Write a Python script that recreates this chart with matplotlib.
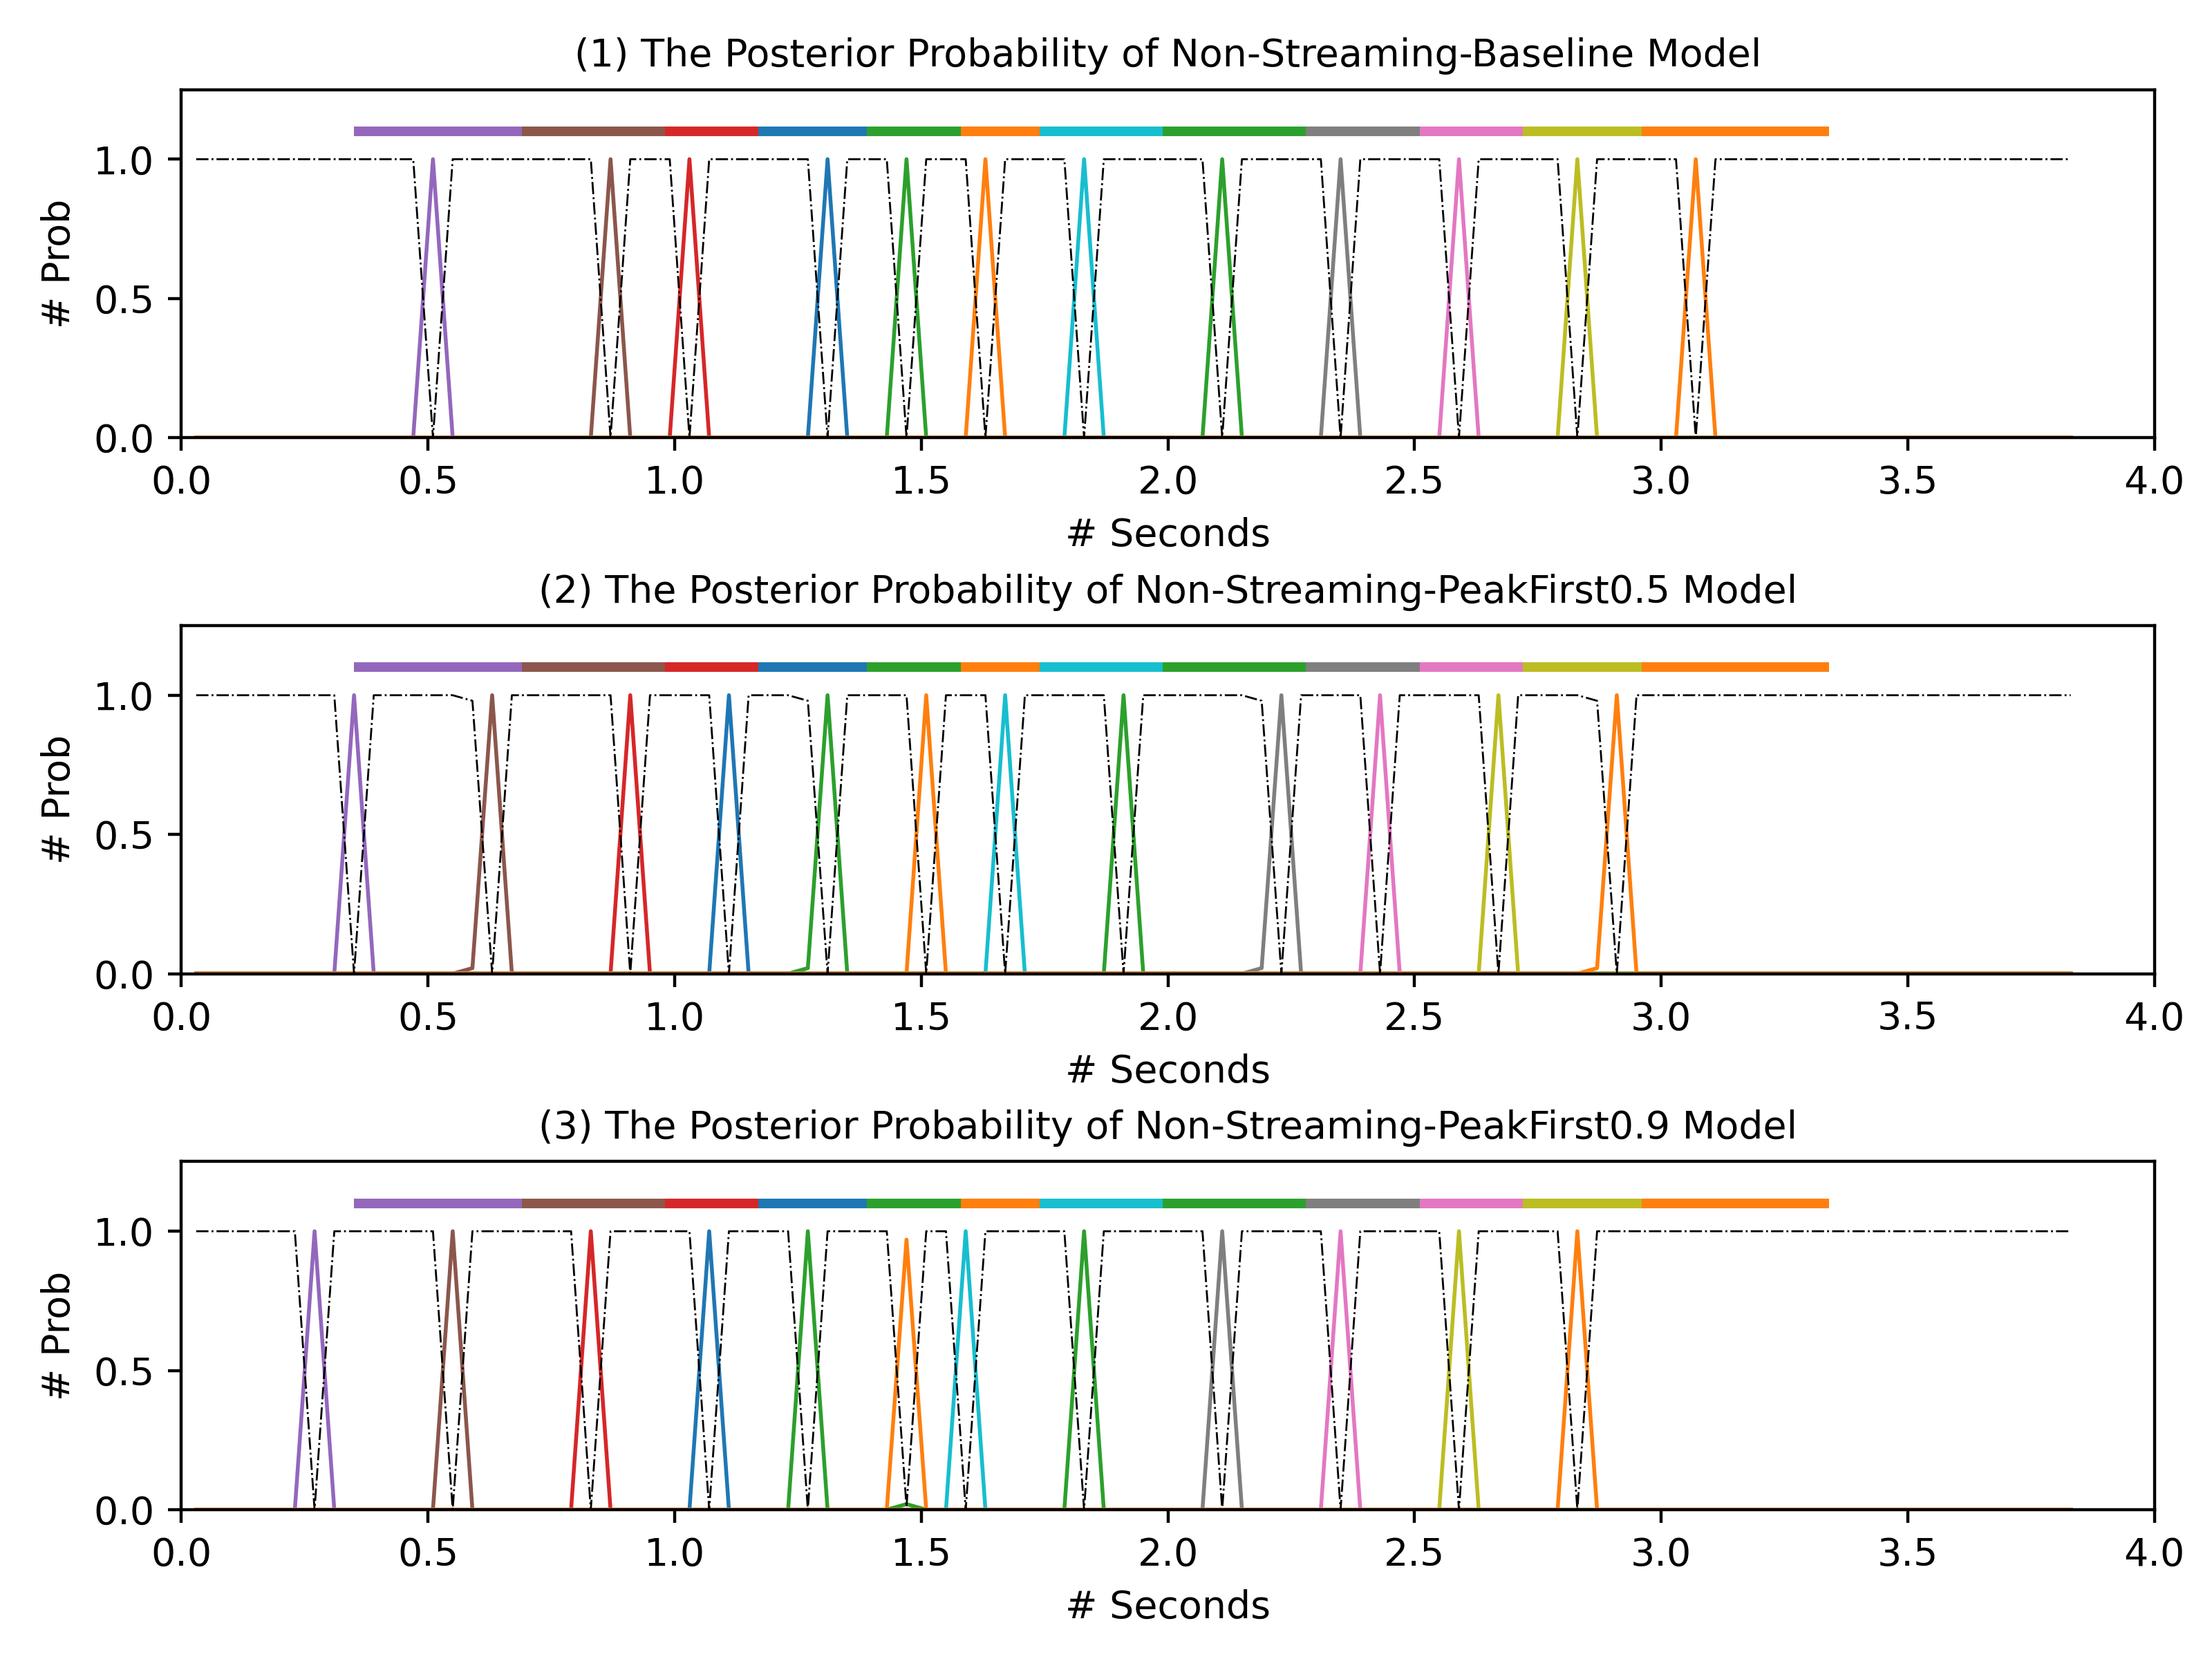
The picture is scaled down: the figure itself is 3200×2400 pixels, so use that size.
import numpy as np
import matplotlib
matplotlib.use("Agg")
import matplotlib.pyplot as plt

# frame grid of the model output (40 ms shift)
frame_start = 0.03
frame_shift = 0.04
n_frames = 96

# colour of each token in the utterance (ground truth order)
token_colors = ['tab:purple', 'tab:brown', 'tab:red', 'tab:blue', 'tab:green', 'tab:orange',
                'tab:cyan', 'tab:green', 'tab:gray', 'tab:pink', 'tab:olive', 'tab:orange']

# ground truth token boundaries (seconds), drawn as a bar at y=1.1
seg_bounds = [0.35, 0.69, 0.98, 1.17, 1.39, 1.58, 1.74, 1.99, 2.28, 2.51, 2.72, 2.96, 3.34]

titles = ['(1) The Posterior Probability of Non-Streaming-Baseline Model',
          '(2) The Posterior Probability of Non-Streaming-PeakFirst0.5 Model',
          '(3) The Posterior Probability of Non-Streaming-PeakFirst0.9 Model']

# spike time of every token for each model
peaks_baseline = [0.51, 0.87, 1.03, 1.31, 1.47, 1.63, 1.83, 2.11, 2.35, 2.59, 2.83, 3.07]
peaks_pf05 = [0.35, 0.63, 0.91, 1.11, 1.31, 1.51, 1.67, 1.91, 2.23, 2.43, 2.67, 2.91]
peaks_pf09 = [0.27, 0.55, 0.83, 1.07, 1.27, 1.47, 1.59, 1.83, 2.11, 2.35, 2.59, 2.83]

# posterior value at the spike
vals_baseline = [1.0] * 12
vals_pf05 = [1.0] * 12
vals_pf09 = [1.0, 1.0, 1.0, 1.0, 1.0, 0.97, 1.0, 1.0, 1.0, 1.0, 1.0, 1.0]

# small extra posteriors: (time, token index, value)
extra_baseline = []
extra_pf05 = [(0.59, 1, 0.02), (1.27, 4, 0.02), (2.19, 8, 0.02), (2.87, 11, 0.02)]
extra_pf09 = [(1.47, 4, 0.02)]

models = [(peaks_baseline, vals_baseline, extra_baseline),
          (peaks_pf05, vals_pf05, extra_pf05),
          (peaks_pf09, vals_pf09, extra_pf09)]

times = frame_start + frame_shift * np.arange(n_frames)


def frame_of(t):
    return int(round((t - frame_start) / frame_shift))


fig, axes = plt.subplots(3, 1, figsize=(8, 6))

for ax, title, (peaks, vals, extra) in zip(axes, titles, models):
    post = np.zeros((len(token_colors), n_frames))
    for i, (t, v) in enumerate(zip(peaks, vals)):
        post[i, frame_of(t)] = v
    for t, i, v in extra:
        post[i, frame_of(t)] += v
    blank = 1.0 - post.sum(axis=0)

    for i, c in enumerate(token_colors):
        ax.plot(times, post[i], color=c, linewidth=1.0)
    ax.plot(times, blank, color='k', linestyle='-.', linewidth=0.5)

    # ground truth bar
    for i, c in enumerate(token_colors):
        ax.plot([seg_bounds[i], seg_bounds[i + 1]], [1.1, 1.1], color=c, linewidth=2.5,
                solid_capstyle='butt')

    ax.set_xlim(0, 4)
    ax.set_ylim(0, 1.25)
    ax.set_title(title, fontsize=10)
    ax.set_xlabel('# Seconds')
    ax.set_ylabel('# Prob')

plt.subplots_adjust(left=0.082, right=0.974, top=0.946, bottom=0.090, hspace=0.54)
plt.savefig('out.png', dpi=400)
